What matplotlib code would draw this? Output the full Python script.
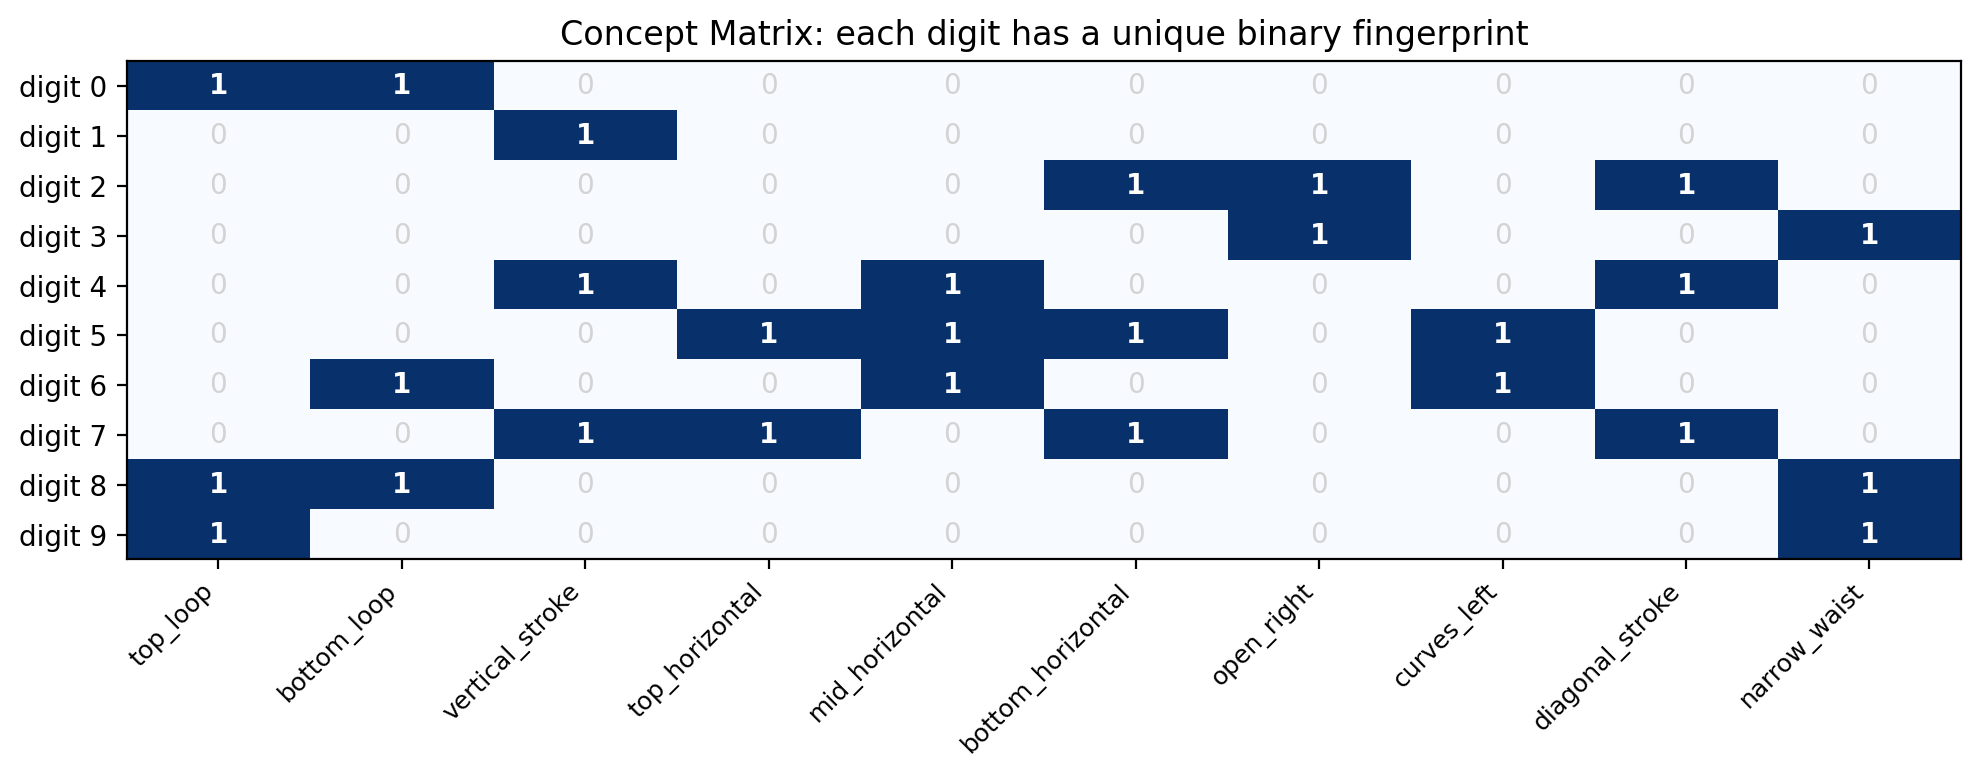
import numpy as np
import matplotlib
matplotlib.use("Agg")
import matplotlib.pyplot as plt

digits = ["digit %d" % i for i in range(10)]
concepts = ["top_loop", "bottom_loop", "vertical_stroke", "top_horizontal",
            "mid_horizontal", "bottom_horizontal", "open_right", "curves_left",
            "diagonal_stroke", "narrow_waist"]

matrix = np.array([
    [1, 1, 0, 0, 0, 0, 0, 0, 0, 0],
    [0, 0, 1, 0, 0, 0, 0, 0, 0, 0],
    [0, 0, 0, 0, 0, 1, 1, 0, 1, 0],
    [0, 0, 0, 0, 0, 0, 1, 0, 0, 1],
    [0, 0, 1, 0, 1, 0, 0, 0, 1, 0],
    [0, 0, 0, 1, 1, 1, 0, 1, 0, 0],
    [0, 1, 0, 0, 1, 0, 0, 1, 0, 0],
    [0, 0, 1, 1, 0, 1, 0, 0, 1, 0],
    [1, 1, 0, 0, 0, 0, 0, 0, 0, 1],
    [1, 0, 0, 0, 0, 0, 0, 0, 0, 1],
])

fig, ax = plt.subplots(figsize=(9.895, 3.885), dpi=200)
ax.imshow(matrix, cmap="Blues", aspect="auto", vmin=0, vmax=1)

for i in range(len(digits)):
    for j in range(len(concepts)):
        v = matrix[i, j]
        if v:
            ax.text(j, i, "1", ha="center", va="center", color="white",
                    fontweight="bold", fontsize=10)
        else:
            ax.text(j, i, "0", ha="center", va="center", color="lightgray",
                    fontsize=10)

ax.set_xticks(np.arange(len(concepts)))
ax.set_xticklabels(concepts, rotation=45, ha="right", fontsize=9)
ax.set_yticks(np.arange(len(digits)))
ax.set_yticklabels(digits, fontsize=10)
ax.set_title("Concept Matrix: each digit has a unique binary fingerprint", fontsize=12)

fig.subplots_adjust(left=0.064, right=0.991, top=0.921, bottom=0.28)
fig.savefig("out.png", dpi=200)
